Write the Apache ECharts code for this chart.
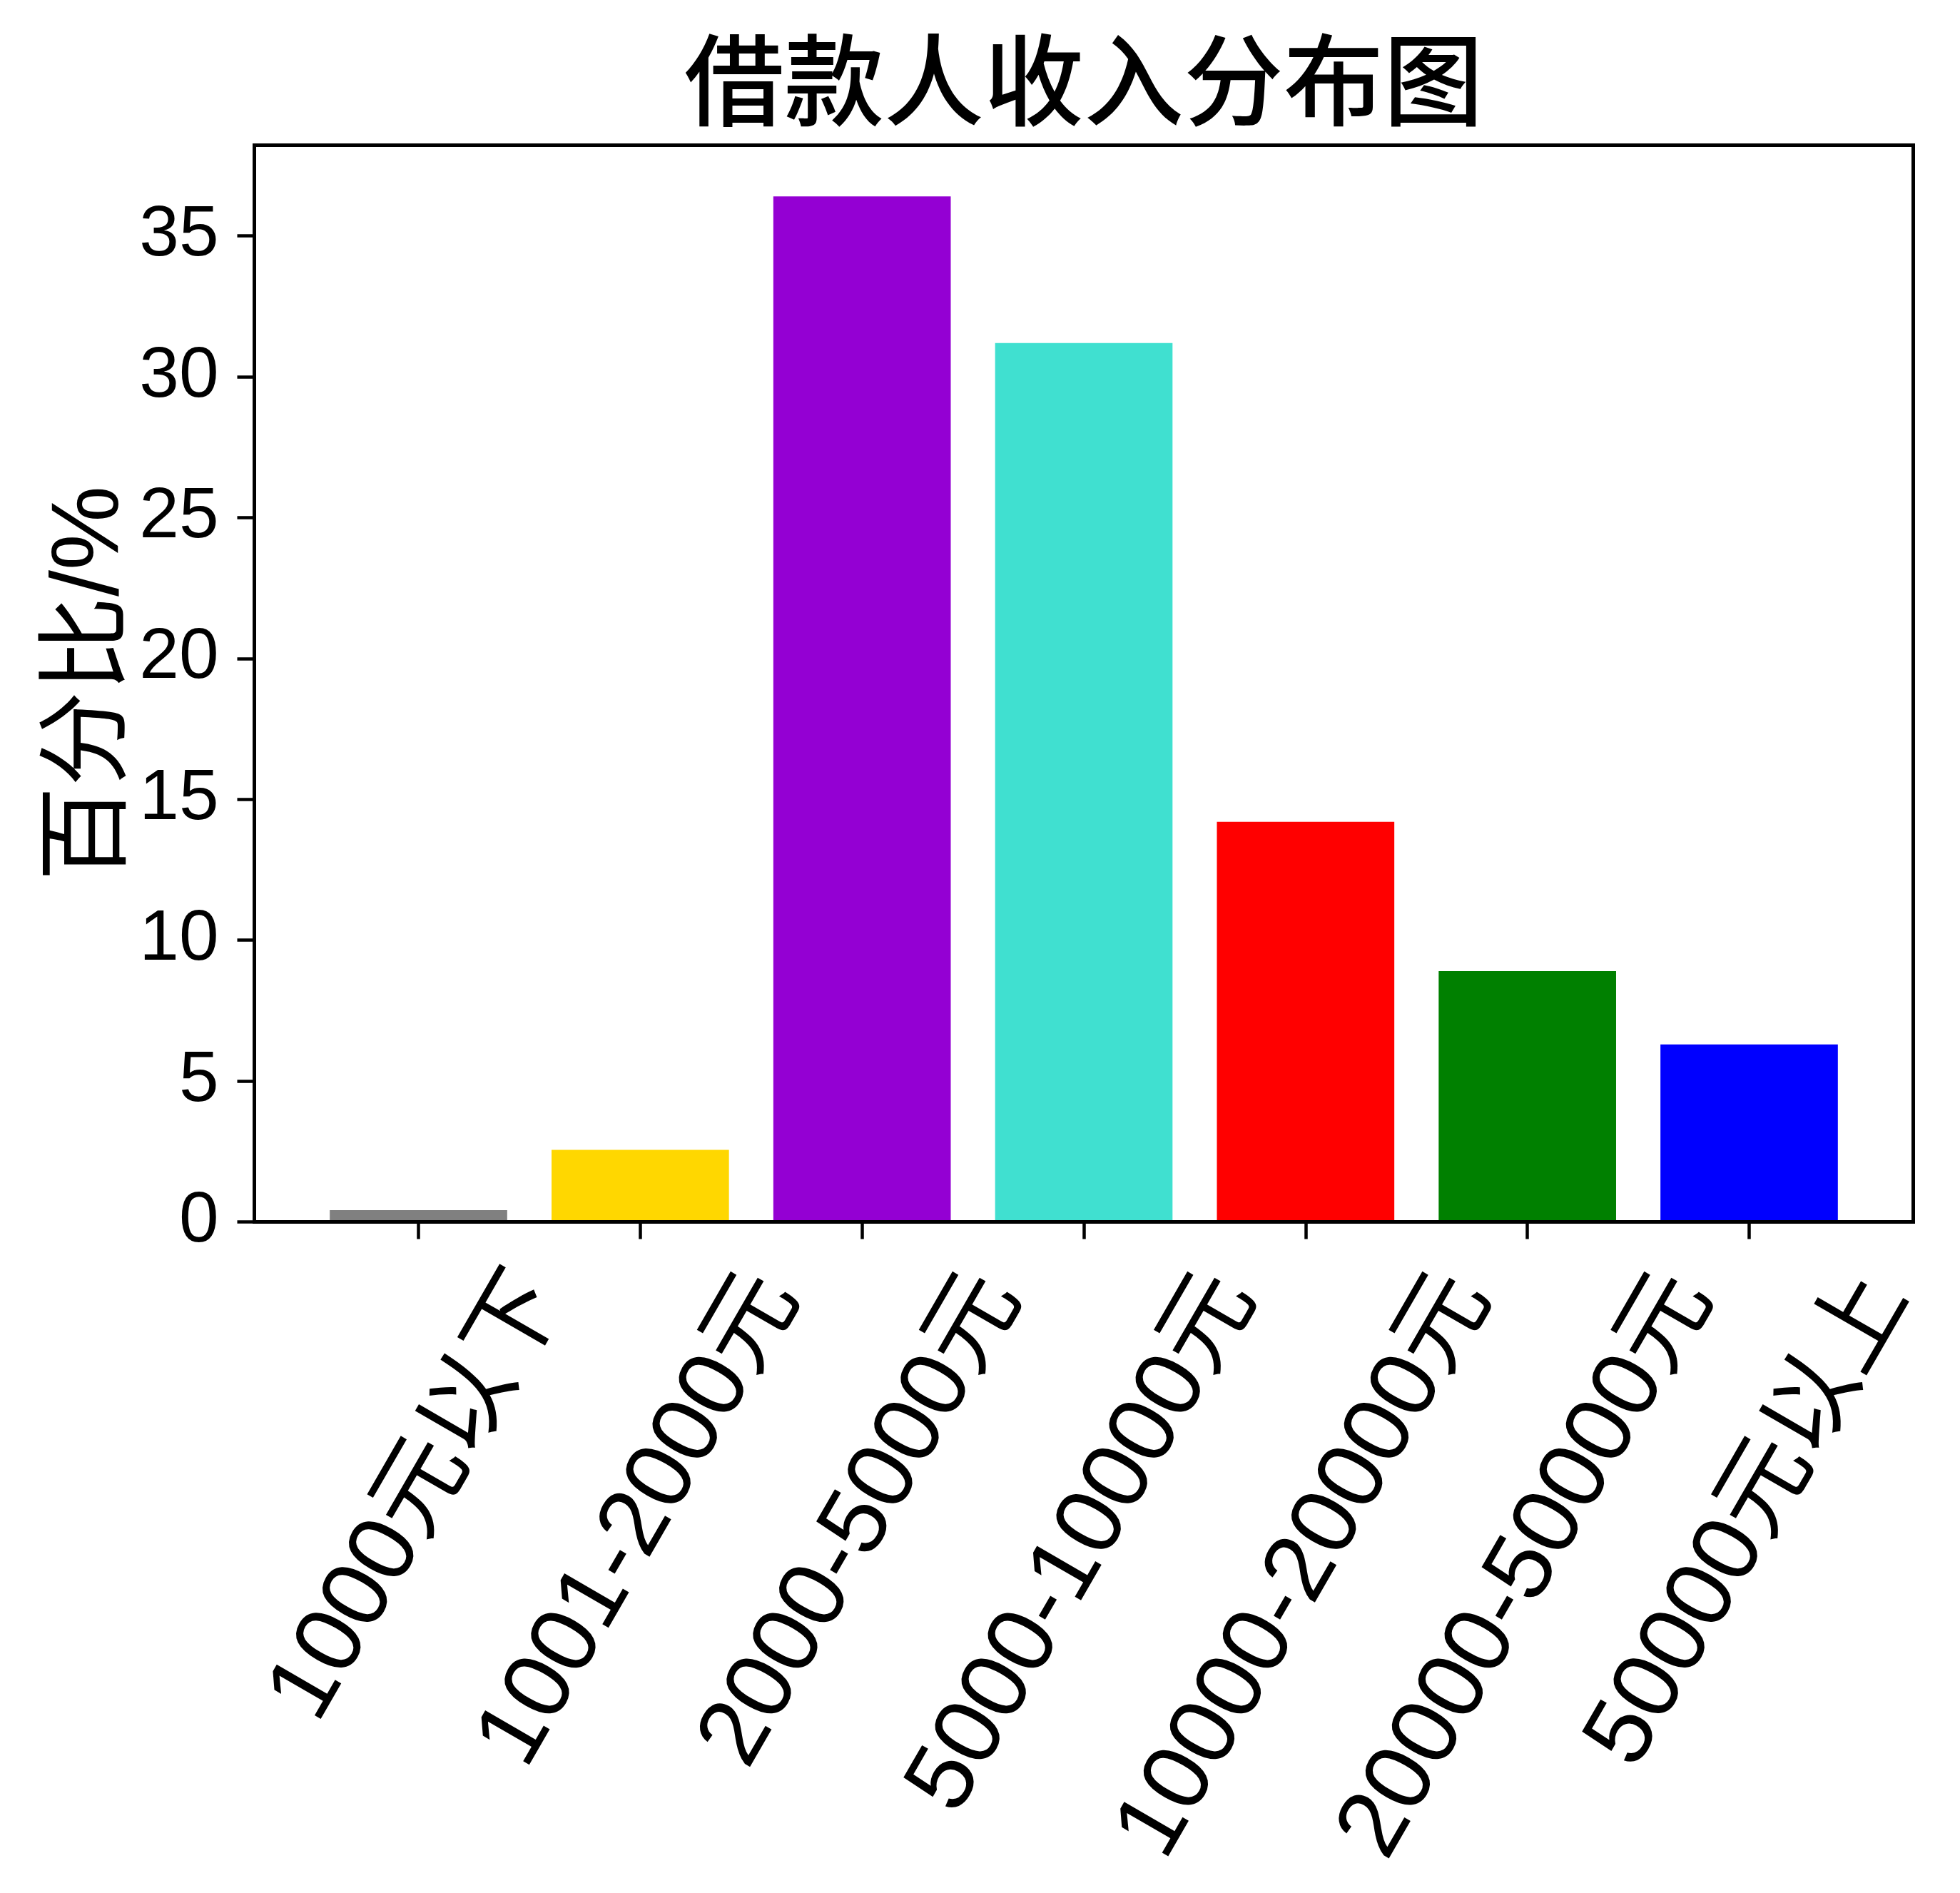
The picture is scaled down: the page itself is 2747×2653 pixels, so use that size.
<!DOCTYPE html>
<html>
<head>
<meta charset="utf-8">
<script src="https://cdn.jsdelivr.net/npm/echarts@6/dist/echarts.min.js"></script>
<style>
html, body { margin: 0; padding: 0; background: #ffffff; }
#chart { width: 2747px; height: 2653px; }
</style>
</head>
<body>
<div id="chart"></div>
<script>
// ---- data ----
const chartTitle = '借款人收入分布图';
const yAxisName = '百分比/%';
const categories = ['1000元以下', '1001-2000元', '2000-5000元', '5000-10000元', '10000-20000元', '20000-50000元', '50000元以上'];
const values = [0.42, 2.56, 36.4, 31.2, 14.2, 8.9, 6.3];
const barColors = ['#808080', '#FFD700', '#9400D3', '#40E0D0', '#FF0000', '#008000', '#0000FF'];
const yTickValues = [0, 5, 10, 15, 20, 25, 30, 35];
const yMax = 38.22;
const xMin = -0.74;
const xMax = 6.74;

// ---- layout ----
const plot = { left: 356.5, top: 203.5, width: 2325, height: 1509 };
const band = plot.width / (xMax - xMin);
const barGridLeft = plot.left + (-0.5 - xMin) * band;
const barGridWidth = categories.length * band;

const cjk = '"Noto Sans CJK SC"';
const latin = '"Liberation Sans"';
const mixed = latin + ', ' + cjk;
const xLabelSize = 133;
const labelGap = 52;
const sin60 = Math.sqrt(3) / 2, cos60 = 0.5;

const measureCtx = document.createElement('canvas').getContext('2d');
measureCtx.font = xLabelSize + 'px ' + mixed;

// Rotated labels: bounding box centred under the tick, top edge at a fixed gap
// (matplotlib rotation=60, ha='center'). Achieved by shifting each rotated label
// along its own text direction (right padding) and across it (line height).
const xData = categories.map(function (c) {
  const L = measureCtx.measureText(c).width;
  const h = xLabelSize;
  const D = labelGap + (L * sin60 + h * cos60) / 2;
  return {
    value: c,
    textStyle: {
      align: 'center',
      verticalAlign: 'top',
      lineHeight: 2 * cos60 * D,
      padding: [0, 2 * sin60 * D, 0, 0]
    }
  };
});

const chart = echarts.init(document.getElementById('chart'), null, { renderer: 'canvas' });
chart.setOption({
  animation: false,
  backgroundColor: '#ffffff',
  title: {
    text: chartTitle,
    left: plot.left + plot.width / 2,
    top: 42,
    textAlign: 'center',
    padding: 0,
    textStyle: { fontFamily: cjk, fontSize: 140, fontWeight: 500, color: '#000' }
  },
  grid: [
    {
      left: plot.left, top: plot.top, width: plot.width, height: plot.height,
      show: true, borderColor: '#000', borderWidth: 5, backgroundColor: 'transparent',
      z: 5, containLabel: false, outerBoundsMode: 'none'
    },
    {
      left: barGridLeft, top: plot.top, width: barGridWidth, height: plot.height,
      containLabel: false, outerBoundsMode: 'none'
    }
  ],
  xAxis: [
    { gridIndex: 0, type: 'category', show: false, data: [] },
    {
      gridIndex: 1, type: 'category', data: xData, boundaryGap: true,
      axisLine: { show: false },
      axisTick: { show: true, alignWithLabel: true, inside: false, length: 24, lineStyle: { color: '#000', width: 4.5 } },
      axisLabel: {
        show: true, interval: 0, rotate: 60, margin: 0,
        fontSize: xLabelSize, fontFamily: mixed, color: '#000', hideOverlap: false
      },
      splitLine: { show: false }
    }
  ],
  yAxis: [
    {
      gridIndex: 0, type: 'value', min: 0, max: yMax,
      name: yAxisName, nameLocation: 'middle', nameGap: 162, nameMoveOverlap: false,
      nameTextStyle: { fontFamily: mixed, fontSize: 133, color: '#000' },
      axisLine: { show: false },
      axisTick: { show: true, inside: false, length: 24, customValues: yTickValues, lineStyle: { color: '#000', width: 4.5 } },
      axisLabel: { customValues: yTickValues, margin: 50, fontSize: 100, fontFamily: latin, color: '#000' },
      splitLine: { show: false }
    },
    { gridIndex: 1, type: 'value', min: 0, max: yMax, show: false, splitLine: { show: false } }
  ],
  series: [
    {
      type: 'bar',
      xAxisIndex: 1,
      yAxisIndex: 1,
      barWidth: '80%',
      data: values.map(function (v, i) { return { value: v, itemStyle: { color: barColors[i] } }; })
    }
  ]
});
</script>
</body>
</html>
